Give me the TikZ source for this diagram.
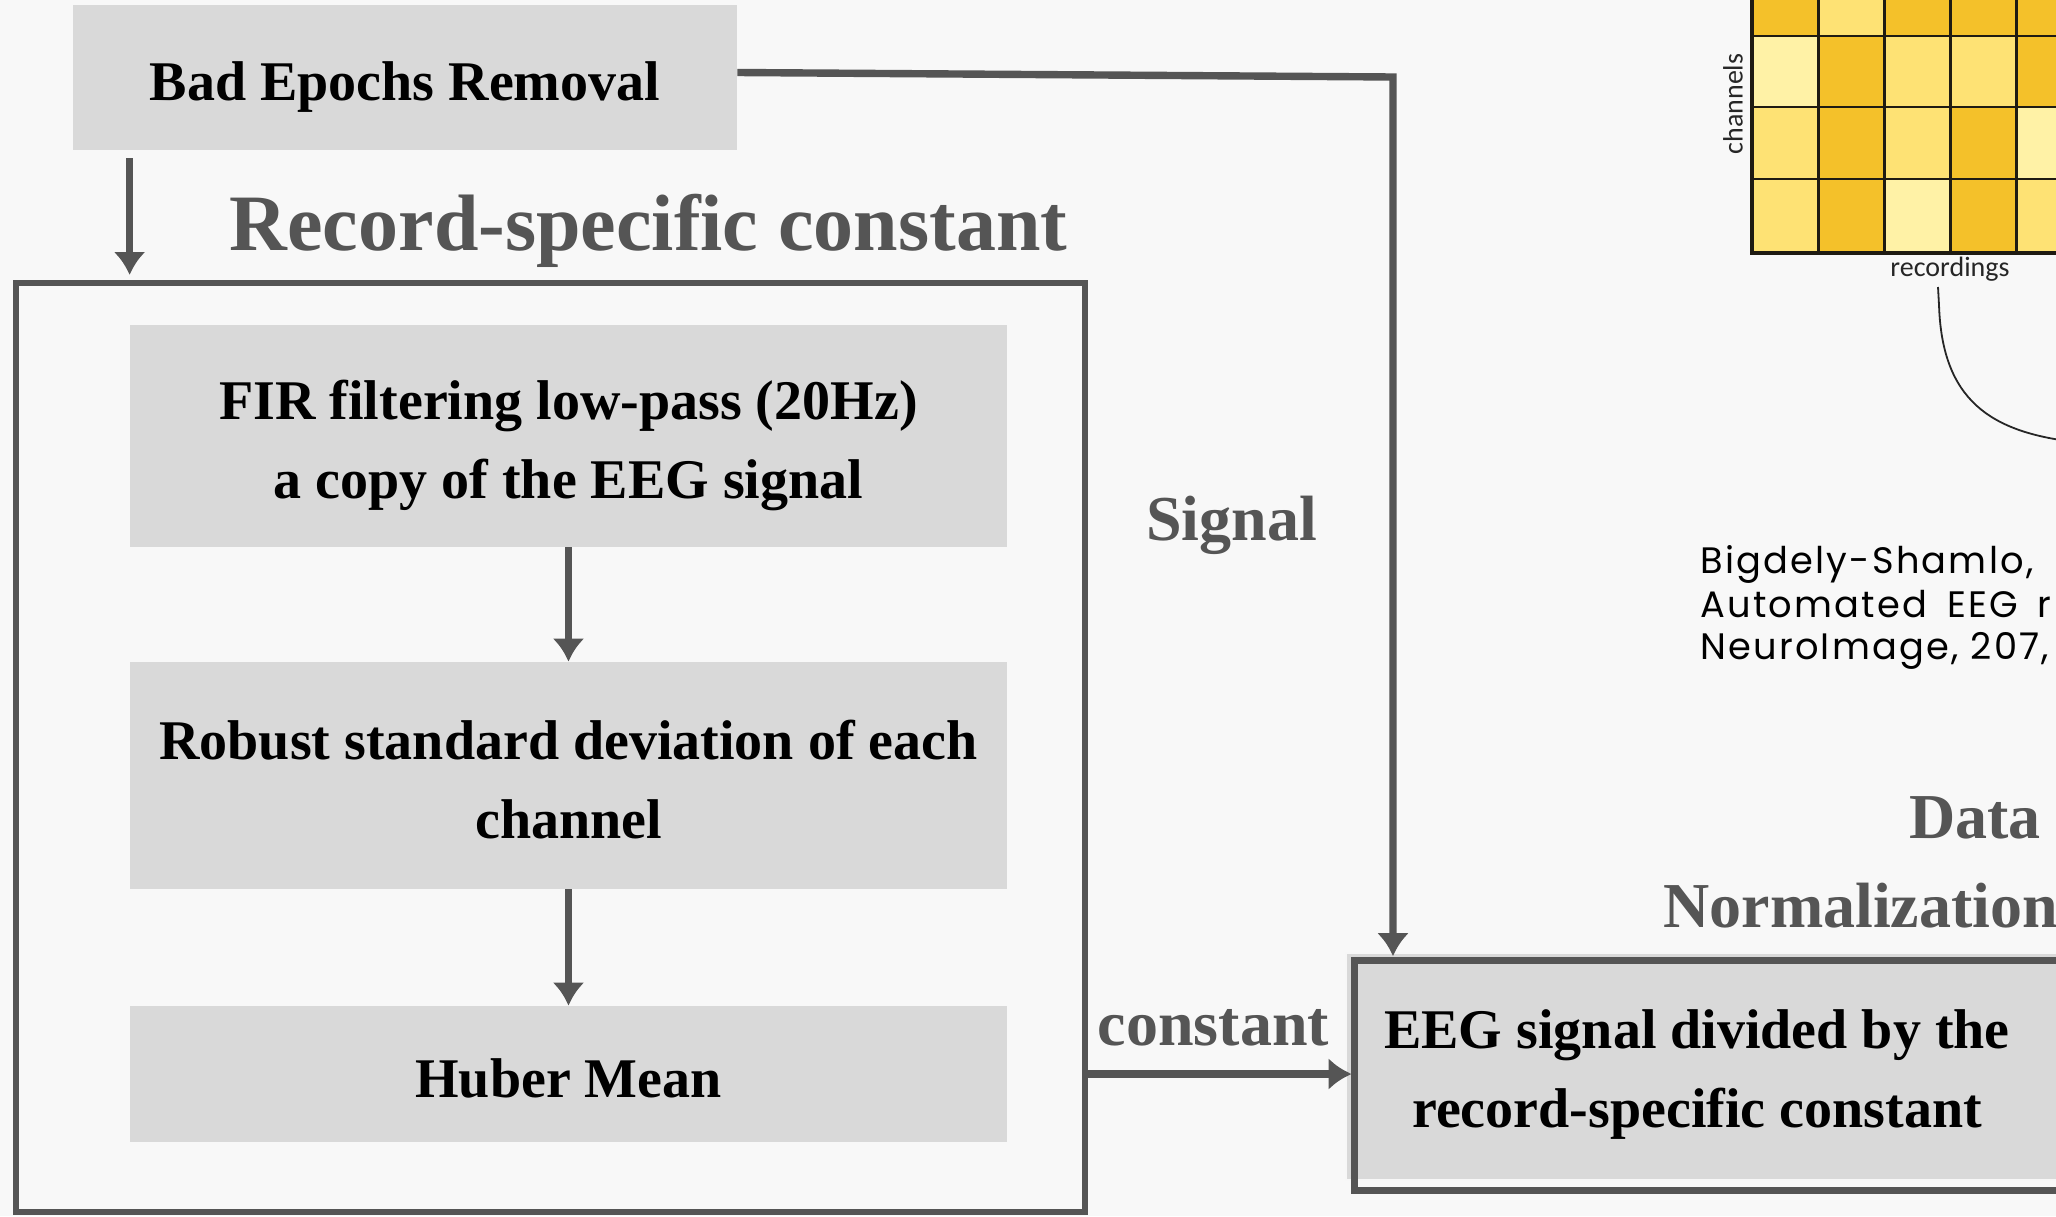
\documentclass[tikz,border=0pt]{standalone}
\usepackage{fontspec}
\setmainfont{Liberation Serif}
\newfontfamily\citefont[LetterSpace=6]{Poppins}
\newfontfamily\axisfont{Carlito}
\usetikzlibrary{arrows.meta}

\definecolor{bg}{HTML}{F8F8F8}
\definecolor{boxgray}{HTML}{D9D9D9}
\definecolor{ink}{HTML}{555555}
\definecolor{celldark}{HTML}{F4C12A}
\definecolor{celllight}{HTML}{FEE274}
\definecolor{cellpale}{HTML}{FFF2A6}
\definecolor{gridline}{HTML}{1F1B12}

\tikzset{
  boxtext/.style={inner sep=0pt, text depth=0pt, align=center,
    font=\fontsize{28}{39.5}\selectfont\bfseries},
  oneline/.style={text height=23.3pt},
  twoline/.style={text height=62.8pt},
  stepbox/.style={boxtext, rectangle, fill=boxgray, minimum width=438.5pt},
  tag/.style={text=ink, inner sep=0pt, font=\fontsize{32}{38}\selectfont\bfseries},
  cite/.style={inner sep=0pt, anchor=base west, font=\citefont\fontsize{18.4}{22}\selectfont},
  axis/.style={inner sep=0pt, text=black!85, font=\axisfont\fontsize{14}{16}\selectfont},
  flow/.style={draw=ink, line width=3.3pt, -{Latex[length=11.5pt,width=16pt]}},
  link/.style={draw=ink, line width=3.7pt, -{Latex[length=11.5pt,width=16pt]}},
}

\begin{document}
\begin{tikzpicture}[x=0.5pt,y=-0.5pt]
\useasboundingbox (0,0) rectangle (2056,1216);
\fill[bg] (0,0) rectangle (2056,1216);
\clip (0,0) rectangle (2056,1216);

% ---- channels x recordings matrix ----
\foreach \rowtop/\rowbot/\rowcols in {
  -36/36/{celldark,celllight,celldark,celldark,celldark},
  36/107/{cellpale,celldark,celllight,celllight,celldark},
  107/179/{celllight,celldark,celllight,celldark,cellpale},
  179/253/{celllight,celldark,cellpale,celldark,celllight}}
{
  \foreach \cl [count=\i from 0] in \rowcols {
    \fill[\cl] ({1752+66.2*\i},\rowtop) rectangle ({1752+66.2*(\i+1)},\rowbot);
  }
}
\foreach \k in {1,...,5}
  \draw[gridline, line width=1.4pt] ({1752+66.2*\k},-10) -- ({1752+66.2*\k},253);
\foreach \yy in {36,107,179}
  \draw[gridline, line width=1.4pt] (1752,\yy) -- (2070,\yy);
\draw[gridline, line width=2pt] (1752,-10) -- (1752,253) -- (2070,253);

\node[axis, rotate=90] (chanlabel) at (1733,104) {channels};
\node[axis, anchor=base] (reclabel) at (1950,276) {recordings};
\coordinate (recfoot) at (1938,287);
\draw[line width=0.9pt, black!85] (recfoot) -- (1939,305)
  .. controls (1942,400) and (1990,432) .. (2075,442);

% ---- reference ----
\node[cite] (cite1) at (1700,573) {Bigdely-Shamlo,};
\node[cite] (cite2) at (1700,617) {\rlap{Automated}\hspace{123.5pt}\rlap{EEG}\hspace{45pt}r};
\node[cite] (cite3) at (1700,659) {NeuroImage, 207,};

% ---- section titles and edge labels ----
\node[tag, font=\fontsize{40}{48}\selectfont\bfseries, anchor=base] (rsc) at (648.5,250) {Record-specific constant};
\node[tag, anchor=base] (siglabel) at (1231.5,540) {Signal};
\node[tag, anchor=base] (constlabel) at (1213.5,1045) {constant};
\node[tag, anchor=base] (datalabel) at (1975,838) {Data};
\node[tag, anchor=base west] (normlabel) at (1663,927) {Normalization};

% ---- processing steps ----
\node[stepbox, oneline, minimum width=332pt, minimum height=72.5pt] (bad) at (405,77.5) {Bad Epochs Removal};
\node[draw=ink, line width=2.8pt, inner sep=0pt, minimum width=534.5pt, minimum height=464.5pt] (frame) at (550.5,747.5) {};
\node[stepbox, twoline, minimum height=111pt] (fir) at (568.5,436) {FIR filtering low-pass (20Hz)\\a copy of the EEG signal};
\node[stepbox, twoline, minimum height=113.5pt] (robust) at (568.5,775.5) {Robust standard deviation of each\\channel};
\node[stepbox, oneline, minimum height=68pt] (huber) at (568.5,1074) {Huber Mean};

% ---- normalised output ----
\node[rectangle, fill=boxgray, draw=white!80!boxgray, line width=0.8pt, inner sep=0pt,
      minimum width=362pt, minimum height=113.5pt] (eeg) at (1708,1066.5) {};
\draw[ink, line width=3.5pt] ([xshift=4.5pt,yshift=-4pt]eeg.north west) rectangle ([xshift=4.5pt,yshift=-5pt]eeg.south east);
\node[boxtext, twoline] (eegtext) at (1697,1064.5) {EEG signal divided by the\\record-specific constant};

% ---- connectors ----
\coordinate (sigturn) at (1393,77);
\draw[link, shorten >=-2pt] ([yshift=2.5pt]bad.east) -- (sigturn) -- (sigturn |- eeg.north);
\draw[link, shorten >=-3.2pt] (huber.east -| frame.east) -- (huber.east -| eeg.west);
\draw[flow, shorten <=4pt, shorten >=2.6pt] (bad.south -| fir.west) -- (frame.north -| fir.west);
\draw[flow] (fir) -- (robust);
\draw[flow] (robust) -- (huber);
\end{tikzpicture}
\end{document}
